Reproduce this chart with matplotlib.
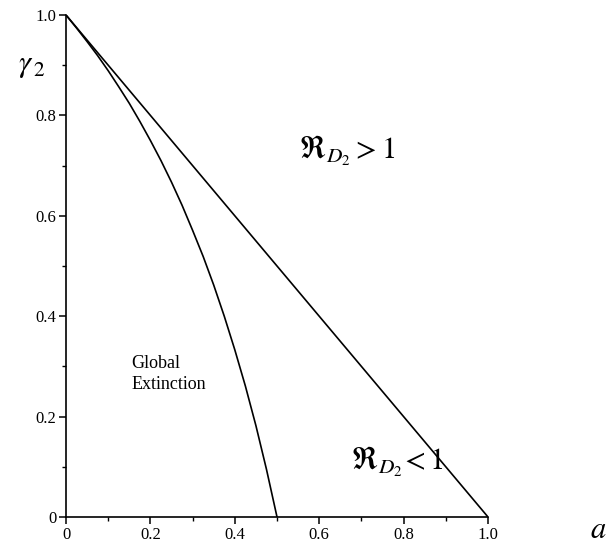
"""
Threshold curve R_D2 = 1 in the (a, gamma_2) plane
"""
import matplotlib
matplotlib.use('Agg')
import matplotlib.pyplot as plt
from matplotlib.ticker import MultipleLocator

# Libs setup
plt.rcParams['font.family'] = 'Liberation Serif'
plt.rcParams['mathtext.fontset'] = 'stix'

####################################################################################################################
# Data

# straight boundary a + gamma_2 = 1
lineA = [0.0, 1.0]
lineG = [1.0, 0.0]

# curved boundary (R_D2 = 1)
curveA = [0.0, 0.025, 0.05, 0.075, 0.10, 0.125, 0.15, 0.175, 0.20, 0.225, 0.25,
          0.275, 0.30, 0.325, 0.35, 0.375, 0.40, 0.425, 0.45, 0.475, 0.50]
curveG = [1.0, 0.974, 0.947, 0.919, 0.889, 0.857, 0.824, 0.788, 0.750, 0.710, 0.667,
          0.621, 0.571, 0.519, 0.462, 0.400, 0.333, 0.261, 0.182, 0.095, 0.0]

xTicks = [0, 0.2, 0.4, 0.6, 0.8, 1.0]
xTickLabels = ['0', '0.2', '0.4', '0.6', '0.8', '1.0']
yTicks = [0, 0.2, 0.4, 0.6, 0.8, 1.0]
yTickLabels = ['0', '0.2', '0.4', '0.6', '0.8', '1.0']

####################################################################################################################
# Plot

fig = plt.figure(figsize=(6.13, 5.46), dpi=100)
ax = fig.add_axes([0.1077, 0.0531, 0.6884, 0.9194])

ax.plot(lineA, lineG, color='black', linewidth=1.2)
ax.plot(curveA, curveG, color='black', linewidth=1.2)

ax.set_xlim(0, 1.0)
ax.set_ylim(0, 1.0)
ax.spines['top'].set_visible(False)
ax.spines['right'].set_visible(False)
ax.spines['left'].set_linewidth(1.2)
ax.spines['bottom'].set_linewidth(1.2)

ax.set_xticks(xTicks)
ax.set_xticklabels(xTickLabels, fontsize=12)
ax.set_yticks(yTicks)
ax.set_yticklabels(yTickLabels, fontsize=12)
ax.xaxis.set_minor_locator(MultipleLocator(0.1))
ax.yaxis.set_minor_locator(MultipleLocator(0.1))
ax.tick_params(which='major', direction='out', length=5, width=1.1, pad=2)
ax.tick_params(which='minor', direction='out', length=3, width=1.0)

# axis labels placed like the original (gamma_2 top-left, a at the right end)
fig.text(0.03, 0.88, r'$\gamma_{\,2}$', fontsize=22, ha='left', va='center')
fig.text(0.99, 0.028, r'$a$', fontsize=22, ha='right', va='center')

# region annotations
ax.text(0.665, 0.73, r'$\Re_{D_2} > 1$', fontsize=22, ha='center', va='center')
ax.text(0.785, 0.11, r'$\Re_{D_2}\!< 1$', fontsize=22, ha='center', va='center')
ax.text(0.155, 0.285, 'Global\nExtinction', fontsize=13, ha='left', va='center', linespacing=1.3)

fig.savefig('out.png', dpi=100)
